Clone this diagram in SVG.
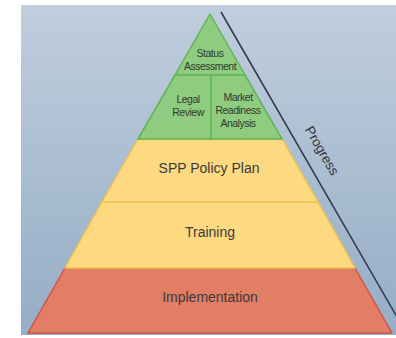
<svg xmlns="http://www.w3.org/2000/svg" width="396" height="338" viewBox="0 0 396 338">
<defs>
<linearGradient id="bg" x1="0" y1="0" x2="0" y2="1">
<stop offset="0" stop-color="#c0cedd"/>
<stop offset="1" stop-color="#95adc6"/>
</linearGradient>
<style>
.g{fill:#8fcc80;stroke:#5fb556;stroke-width:1.5;stroke-linejoin:round}
.y{fill:#fdd981;stroke:#f2c44c;stroke-width:1.5;stroke-linejoin:round}
.r{fill:#e27d66;stroke:#d4533f;stroke-width:1.5;stroke-linejoin:round}
.s{font-family:"Liberation Sans Narrow","Liberation Sans",Arial,sans-serif;font-size:10.5px;fill:#2f3a2c;text-anchor:middle;letter-spacing:-0.5px}
.t{font-family:"Liberation Sans",Arial,sans-serif;font-size:14px;fill:#3a3a3a;text-anchor:middle}
</style>
</defs>
<rect x="21" y="5" width="375" height="330" fill="url(#bg)"/>
<g id="connectors">
<line x1="221" y1="12" x2="397" y2="317" stroke="#333c4a" stroke-width="1.6"/>
</g>
<g id="progress">
<text x="0" y="0" transform="translate(318,153) rotate(60)" style="font-family:'Liberation Sans',Arial,sans-serif;font-size:13.5px;fill:#333;text-anchor:middle">Progress</text>
</g>
<g id="implementation">
<polygon class="r" points="65,268 355,268 392,333 28,333"/>
<text class="t" x="210" y="302">Implementation</text>
</g>
<g id="training">
<polygon class="y" points="102,202 318,202 355,268 65,268"/>
<text class="t" x="210" y="237">Training</text>
</g>
<g id="spp">
<polygon class="y" points="138,139 282,139 318,202 102,202"/>
<text class="t" x="209" y="173">SPP Policy Plan</text>
</g>
<g id="status">
<polygon class="g" points="210,14 245,75 175,75"/>
<text class="s" x="210" y="57">Status</text>
<text class="s" x="210" y="70">Assessment</text>
</g>
<g id="legal">
<polygon class="g" points="175,75 211,75 211,139 138,139"/>
<text class="s" x="188" y="103">Legal</text>
<text class="s" x="188" y="116">Review</text>
</g>
<g id="market">
<polygon class="g" points="211,75 245,75 282,139 211,139"/>
<text class="s" x="238" y="101">Market</text>
<text class="s" x="238" y="114">Readiness</text>
<text class="s" x="238" y="127">Analysis</text>
</g>
</svg>
